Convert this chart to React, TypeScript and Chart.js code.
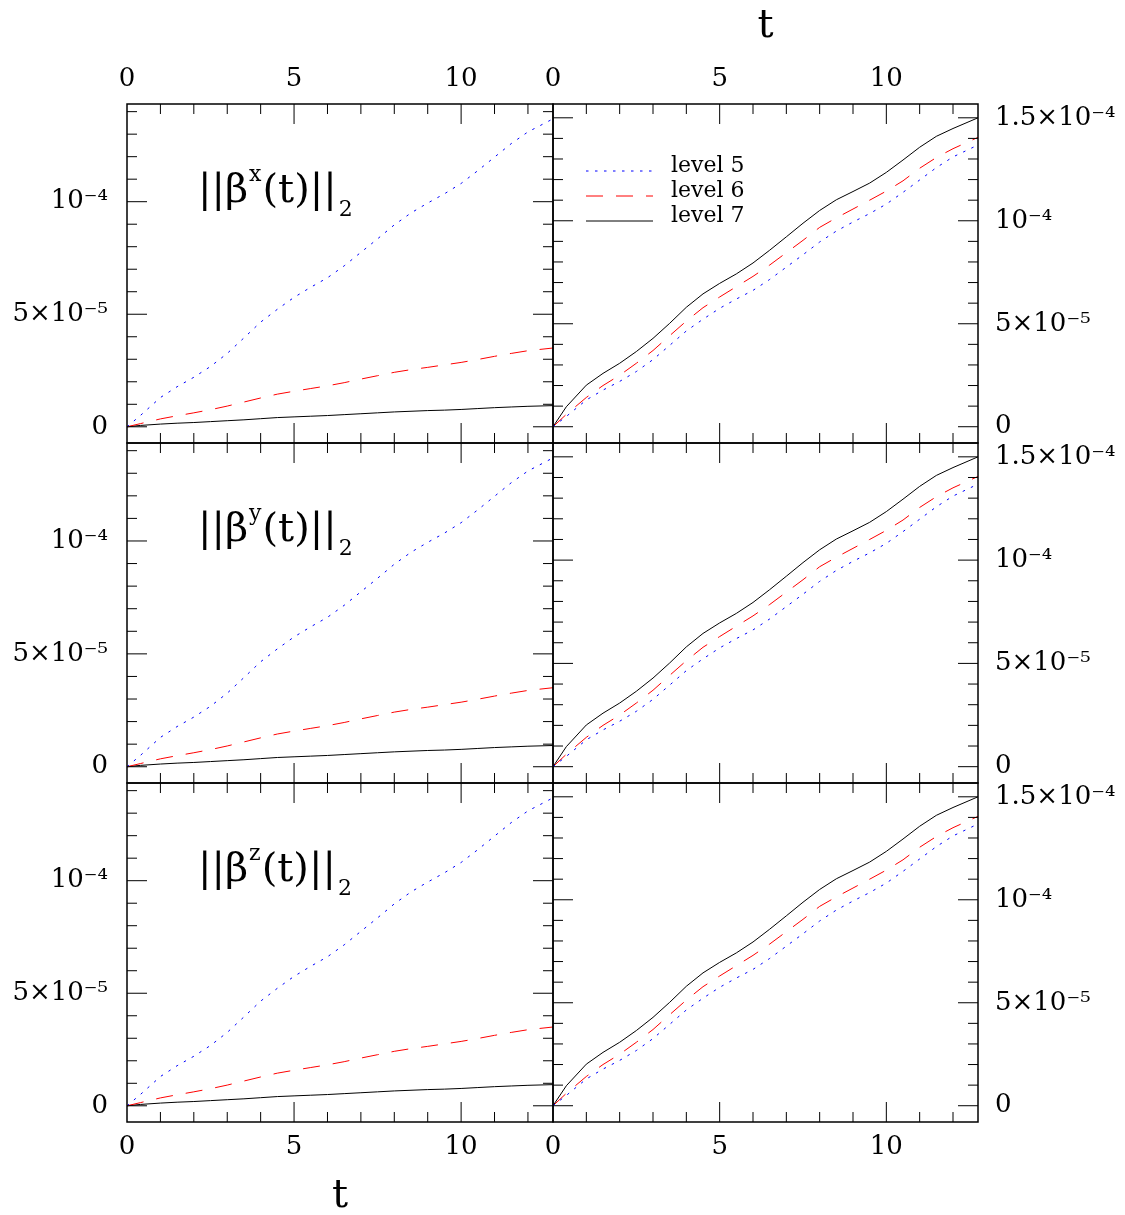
import React, { useEffect, useRef } from 'react';
import { Chart, registerables } from 'chart.js';

Chart.register(...registerables);

const PAGE_W = 1125;
const PAGE_H = 1215;
const FONT = "'DejaVu Serif', 'Liberation Serif', serif";

// time samples (t)
const T = [0, 0.4, 1, 1.5, 2, 2.5, 3, 3.5, 4, 4.5, 5, 5.5, 6, 6.5, 7, 7.5, 8, 8.5, 9, 9.5, 10, 10.5, 11, 11.5, 12, 12.75];

// values in units of 1e-5
const LEVEL5 = [0, 0.5, 1.3, 1.78, 2.2, 2.68, 3.26, 3.95, 4.65, 5.22, 5.75, 6.2, 6.62, 7.15, 7.75, 8.35, 8.97, 9.5, 9.94, 10.35, 10.81, 11.38, 11.98, 12.58, 13.1, 13.68];
const LEFT_LEVEL6 = [0, 0.14, 0.35, 0.49, 0.62, 0.76, 0.92, 1.1, 1.28, 1.45, 1.58, 1.7, 1.82, 1.96, 2.12, 2.27, 2.42, 2.54, 2.64, 2.75, 2.86, 2.99, 3.13, 3.26, 3.38, 3.5];
const LEFT_LEVEL7 = [0, 0.06, 0.12, 0.16, 0.19, 0.23, 0.27, 0.31, 0.36, 0.41, 0.44, 0.47, 0.5, 0.54, 0.58, 0.62, 0.66, 0.69, 0.72, 0.74, 0.77, 0.81, 0.85, 0.88, 0.91, 0.94];
const RIGHT_LEVEL6 = [0, 0.6, 1.42, 2.0, 2.5, 3.08, 3.7, 4.42, 5.13, 5.78, 6.3, 6.8, 7.3, 7.85, 8.45, 9.05, 9.68, 10.14, 10.57, 11.0, 11.44, 11.94, 12.55, 13.07, 13.5, 14.05];
const RIGHT_LEVEL7 = [0, 0.97, 2.02, 2.59, 3.08, 3.65, 4.29, 5.02, 5.8, 6.45, 6.96, 7.42, 7.95, 8.57, 9.22, 9.88, 10.5, 11.02, 11.42, 11.83, 12.35, 12.95, 13.57, 14.1, 14.48, 15.0];

const SERIES_LABELS = ['level 5', 'level 6', 'level 7'];
const COMPONENTS = ['x', 'y', 'z'];

const X_TICKS = [0, 5, 10];
const X_TICK_LABELS = ['0', '5', '10'];
const Y_TICKS = [0, 5, 10, 15];
const Y_TICK_LABELS = ['0', '5×10⁻⁵', '10⁻⁴', '1.5×10⁻⁴'];

const X_RANGE = [0, 12.75];
const LEFT_Y_RANGE = [-0.72, 14.34];
const RIGHT_Y_RANGE = [-0.79, 15.67];

// layout (pixel boxes of panels)
const ROW_TOP = [104, 443, 783];
const ROW_BOTTOM = [443, 783, 1122];
const COL_LEFT = [127, 553];
const COL_RIGHT = [553, 978];

const STYLES = [
  { color: '#0000ff', dash: [2.5, 6.5] },
  { color: '#ff0000', dash: [17, 13] },
  { color: '#000000', dash: [] as number[] },
];

function pts(ys: number[]) {
  return T.map((t, i) => ({ x: t, y: ys[i] }));
}

function seg(ctx: CanvasRenderingContext2D, x1: number, y1: number, x2: number, y2: number) {
  ctx.beginPath();
  ctx.moveTo(x1, y1);
  ctx.lineTo(x2, y2);
  ctx.stroke();
}

function makePlugin(row: number, col: number) {
  return {
    id: 'panelDecor',
    afterDraw(chart: any) {
      const { ctx, chartArea: a, scales } = chart;
      const xs = scales.x;
      const ys = scales.y;
      ctx.save();
      ctx.strokeStyle = '#000';
      ctx.lineWidth = 1;
      ctx.setLineDash([]);
      // x ticks (inside, top & bottom)
      for (let k = 1; k <= Math.floor(xs.max); k++) {
        const px = xs.getPixelForValue(k);
        const len = k % 5 === 0 ? 20 : 10;
        seg(ctx, px, a.top, px, a.top + len);
        seg(ctx, px, a.bottom, px, a.bottom - len);
      }
      // y ticks (inside, left & right)
      for (let k = 0; k <= Math.floor(ys.max); k++) {
        const py = ys.getPixelForValue(k);
        const len = k % 5 === 0 ? 20 : 10;
        seg(ctx, a.left, py, a.left + len, py);
        seg(ctx, a.right, py, a.right - len, py);
      }
      ctx.lineWidth = 1.5;
      ctx.strokeRect(a.left, a.top, a.right - a.left, a.bottom - a.top);

      ctx.fillStyle = '#000';
      ctx.textBaseline = 'alphabetic';
      ctx.textAlign = 'left';
      if (col === 0) {
        const big = '40px ' + FONT;
        const small = '22px ' + FONT;
        let x = a.left + 71;
        const y = a.top + 98;
        ctx.font = big;
        ctx.fillText('||β', x, y);
        x += ctx.measureText('||β').width + 1;
        ctx.font = small;
        ctx.fillText(COMPONENTS[row], x, y - 21);
        x += ctx.measureText(COMPONENTS[row]).width + 1;
        ctx.font = big;
        ctx.fillText('(t)||', x, y);
        x += ctx.measureText('(t)||').width + 2;
        ctx.font = small;
        ctx.fillText('2', x, y + 14);
      }
      if (col === 1 && row === 0) {
        ctx.font = '22px ' + FONT;
        chart.data.datasets.forEach((ds: any, i: number) => {
          const y = a.top + 67 + i * 25;
          ctx.strokeStyle = ds.borderColor;
          ctx.lineWidth = 1;
          ctx.setLineDash(ds.borderDash || []);
          seg(ctx, a.left + 33, y, a.left + 100, y);
          ctx.setLineDash([]);
          ctx.fillStyle = '#000';
          ctx.fillText(ds.label, a.left + 118, y + 1);
        });
      }
      ctx.restore();
    },
  };
}

function makeConfig(row: number, col: number): any {
  const top = ROW_TOP[row];
  const bottom = ROW_BOTTOM[row];
  const left = COL_LEFT[col];
  const right = COL_RIGHT[col];
  const yRange = col === 0 ? LEFT_Y_RANGE : RIGHT_Y_RANGE;
  const series = col === 0 ? [LEVEL5, LEFT_LEVEL6, LEFT_LEVEL7] : [LEVEL5, RIGHT_LEVEL6, RIGHT_LEVEL7];
  const xPos = row === 0 ? 'top' : 'bottom';
  const xAxisH = row === 0 ? top : PAGE_H - bottom;
  const yAxisW = col === 0 ? left : PAGE_W - right;
  const padding = {
    left: col === 0 ? 0 : left,
    right: col === 0 ? PAGE_W - right : 0,
    top: row === 0 ? 0 : top,
    bottom: row === 0 ? PAGE_H - bottom : 0,
  };
  const showXTitle = (row === 0 && col === 1) || (row === 2 && col === 0);

  return {
    type: 'line',
    data: {
      datasets: series.map((s, i) => ({
        label: SERIES_LABELS[i],
        data: pts(s),
        borderColor: STYLES[i].color,
        borderDash: STYLES[i].dash,
        borderWidth: 1,
        pointRadius: 0,
        tension: 0,
        fill: false,
      })),
    },
    options: {
      responsive: false,
      maintainAspectRatio: false,
      animation: false,
      events: [],
      layout: { padding },
      plugins: { legend: { display: false }, tooltip: { enabled: false } },
      scales: {
        x: {
          type: 'linear',
          position: xPos,
          min: X_RANGE[0],
          max: X_RANGE[1],
          afterBuildTicks: (s: any) => {
            s.ticks = X_TICKS.map((v) => ({ value: v }));
          },
          afterFit: (s: any) => {
            s.height = xAxisH;
          },
          grid: { display: false, drawTicks: false },
          border: { display: false },
          ticks: {
            display: row !== 1,
            autoSkip: false,
            maxRotation: 0,
            padding: row === 0 ? 9 : 10,
            color: '#000',
            font: { family: FONT, size: 26 },
            callback: (v: number) => {
              const i = X_TICKS.indexOf(v);
              return i >= 0 ? X_TICK_LABELS[i] : '';
            },
          },
          title: {
            display: showXTitle,
            text: 't',
            color: '#000',
            font: { family: FONT, size: 40, lineHeight: 1 },
            padding: { top: 7, bottom: -2 },
          },
        },
        y: {
          type: 'linear',
          position: col === 0 ? 'left' : 'right',
          min: yRange[0],
          max: yRange[1],
          afterBuildTicks: (s: any) => {
            s.ticks = Y_TICKS.filter((v) => v <= yRange[1]).map((v) => ({ value: v }));
          },
          afterFit: (s: any) => {
            s.width = yAxisW;
          },
          grid: { display: false, drawTicks: false },
          border: { display: false },
          ticks: {
            autoSkip: false,
            padding: col === 0 ? 19 : 17,
            color: '#000',
            font: { family: FONT, size: 26 },
            callback: (v: number) => {
              const i = Y_TICKS.indexOf(v);
              return i >= 0 ? Y_TICK_LABELS[i] : '';
            },
          },
        },
      },
    },
    plugins: [makePlugin(row, col)],
  };
}

function Panel({ row, col }: { row: number; col: number }) {
  const ref = useRef<HTMLCanvasElement | null>(null);
  useEffect(() => {
    const chart = new Chart(ref.current as HTMLCanvasElement, makeConfig(row, col));
    return () => chart.destroy();
  }, [row, col]);
  return (
    <canvas
      ref={ref}
      width={PAGE_W}
      height={PAGE_H}
      style={{ position: 'absolute', left: 0, top: 0, width: PAGE_W, height: PAGE_H }}
    />
  );
}

export default function App() {
  const panels = [];
  for (let r = 0; r < 3; r++) {
    for (let c = 0; c < 2; c++) {
      panels.push(<Panel key={r + '-' + c} row={r} col={c} />);
    }
  }
  return (
    <div style={{ position: 'absolute', left: 0, top: 0, width: PAGE_W, height: PAGE_H, background: '#fff' }}>
      {panels}
    </div>
  );
}
